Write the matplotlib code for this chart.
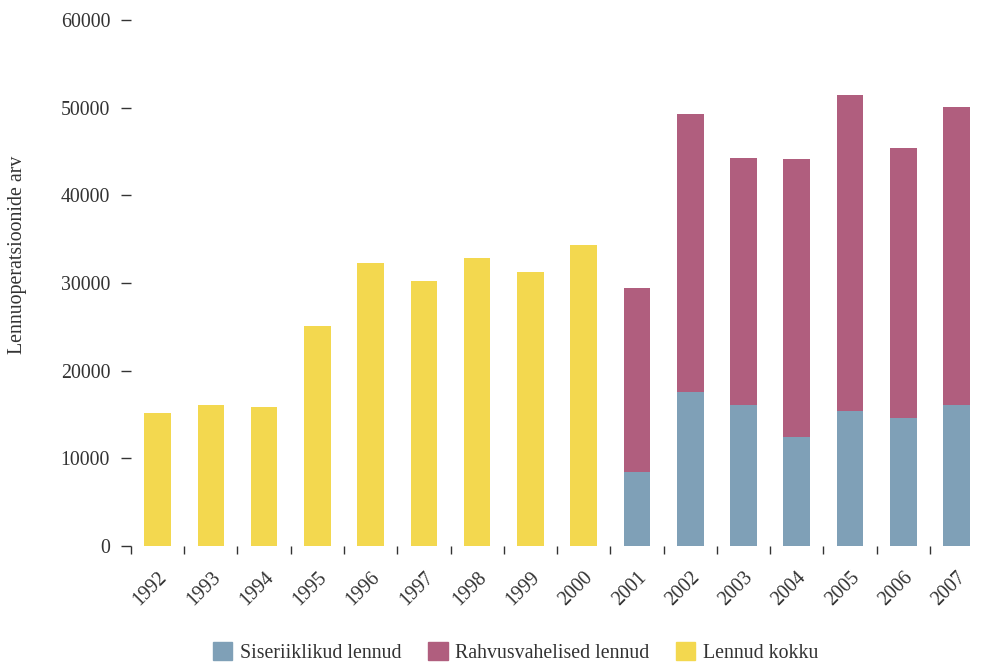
import matplotlib.pyplot as plt
import numpy as np
from matplotlib.patches import Patch

years = [str(y) for y in range(1992, 2008)]
total_only = [15200, 16100, 15900, 25100, 32300, 30200, 32800, 31300, 34300]
domestic = [8450, 17550, 16100, 12400, 15400, 14600, 16100]
total_split = [29450, 49300, 44250, 44200, 51450, 45400, 50100]
international = [t - d for t, d in zip(total_split, domestic)]

c_dom = '#7fa0b7'
c_int = '#b05e7e'
c_tot = '#f3d84f'

plt.rcParams['font.family'] = ['Liberation Serif', 'DejaVu Serif']
plt.rcParams['font.size'] = 14.3

fig = plt.figure(figsize=(9.84, 6.62), dpi=100)
ax = fig.add_axes([0.1331, 0.1752, 0.866, 0.7946])

x = np.arange(len(years))
n_tot = len(total_only)
ax.bar(x[:n_tot], total_only, width=0.5, color=c_tot)
ax.bar(x[n_tot:], domestic, width=0.5, color=c_dom)
ax.bar(x[n_tot:], international, width=0.5, bottom=domestic, color=c_int)

ax.set_xlim(-0.5, len(years) - 0.5)
ax.set_ylim(0, 60000)
ax.set_yticks(range(0, 60001, 10000))
ax.tick_params(axis='y', length=7, width=1, pad=8, colors='#333333', labelcolor='#333333')

ax.set_xticks(x)
ax.set_xticklabels(years, rotation=45, ha='right', rotation_mode='anchor', color='#333333')
ax.tick_params(axis='x', which='major', length=0, pad=16)
ax.set_xticks(np.arange(-0.5, len(years) - 1, 1), minor=True)
ax.tick_params(axis='x', which='minor', length=6, width=1, color='#333333')

for s in ax.spines.values():
    s.set_visible(False)

ax.set_ylabel('Lennuoperatsioonide arv', color='#333333')
ax.yaxis.set_label_coords(-0.122, 0.553)

handles = [Patch(color=c_dom, label='Siseriiklikud lennud'),
           Patch(color=c_int, label='Rahvusvahelised lennud'),
           Patch(color=c_tot, label='Lennud kokku')]
fig.legend(handles=handles, loc='center', bbox_to_anchor=(0.524, 0.014), ncol=3,
           frameon=False, handlelength=1.0, handleheight=1.0, handletextpad=0.4,
           columnspacing=1.3, labelcolor='#333333')

fig.savefig('out.png', dpi=100)
